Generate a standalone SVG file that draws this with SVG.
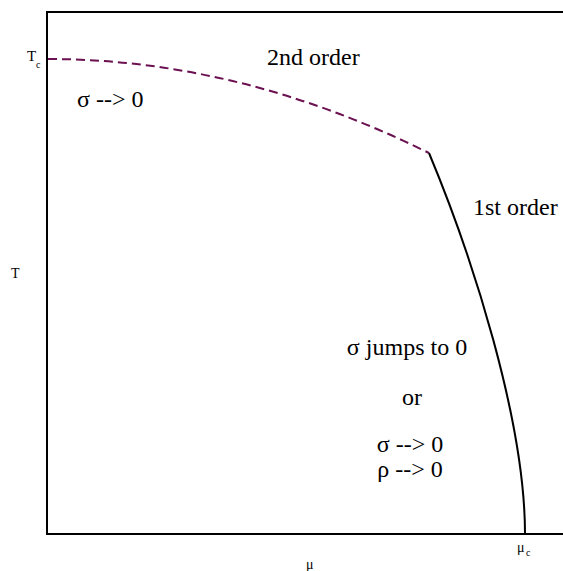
<svg xmlns="http://www.w3.org/2000/svg" width="563" height="571" viewBox="0 0 563 571">
<style>
text{font-family:'Liberation Serif','Times New Roman','DejaVu Serif',serif;fill:#000}
.big{font-size:24px}
.sm{font-size:14px}
.sub{font-size:10px}
</style>
<rect width="563" height="571" fill="#fff"/>
<g id="axes">
<path d="M563,12 H47 V534 H563" fill="none" stroke="#000" stroke-width="2"/>
</g>
<g id="connectors">
<path id="second-order" d="M48,59 Q239,59 429,153" fill="none" stroke="#6b1050" stroke-width="2" stroke-dasharray="9,5"/>
<path id="first-order" d="M429,153 C472,256 525,420 525,534" fill="none" stroke="#000" stroke-width="2"/>
</g>
<g id="labels" font-family="Liberation Serif, Times New Roman, serif">
<text x="27" y="61" font-size="15">T</text>
<text class="sub" x="36" y="68">c</text>
<text class="sm" x="11" y="278">T</text>
<text class="sm" x="306" y="569">μ</text>
<text class="sm" x="517" y="552">μ</text>
<text class="sub" x="526" y="556">c</text>
<text class="big" x="267" y="65">2nd order</text>
<text class="big" x="77" y="107">σ --&gt; 0</text>
<text class="big" x="473" y="215">1st order</text>
<text class="big" x="407" y="355" text-anchor="middle">σ jumps to 0</text>
<text class="big" x="412" y="405" text-anchor="middle">or</text>
<text class="big" x="410" y="452" text-anchor="middle">σ --&gt; 0</text>
<text class="big" x="410" y="477" text-anchor="middle">ρ --&gt; 0</text>
</g>
</svg>
